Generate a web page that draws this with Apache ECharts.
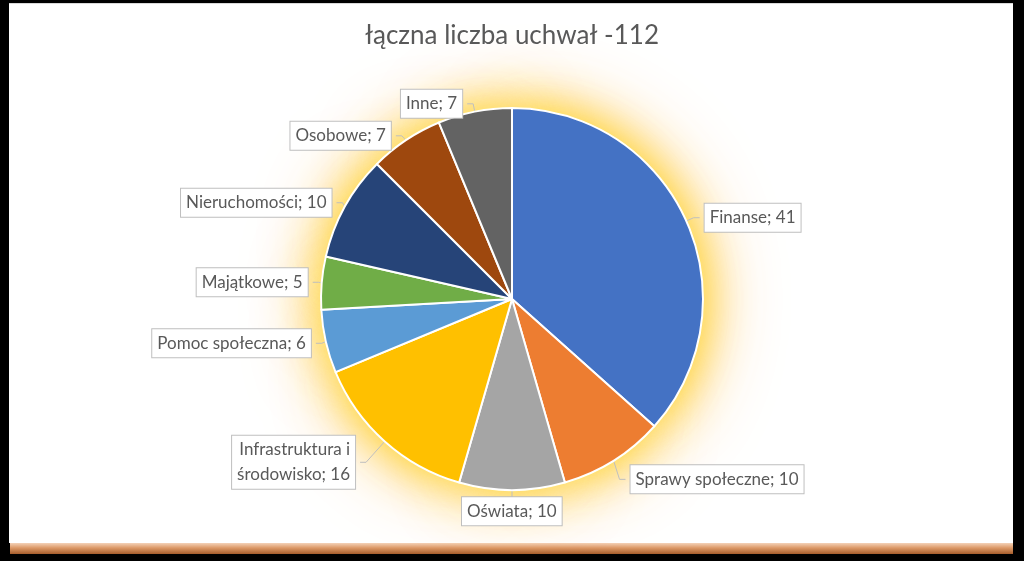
<!DOCTYPE html>
<html>
<head>
<meta charset="utf-8">
<script src="https://cdn.jsdelivr.net/npm/echarts@6/dist/echarts.min.js"></script>
<style>
  html, body { margin: 0; padding: 0; background: #000; }
  #wrap { position: relative; width: 1024px; height: 561px; background: #000; overflow: hidden; }
  #panel { position: absolute; left: 9px; top: 3px; width: 1004px; height: 540px; background: #fff; border-top: 1px solid #d9d9d9; box-sizing: border-box; }
  #bar { position: absolute; left: 10px; top: 543px; width: 1003px; height: 11px;
         background: linear-gradient(to bottom, #f4d2b8 0%, #dc9866 45%, #a65d2c 100%); }
  #chart { position: absolute; left: 0; top: 0; width: 1024px; height: 561px; }
</style>
</head>
<body>
<div id="wrap">
  <div id="panel"></div>
  <div id="bar"></div>
  <div id="chart"></div>
</div>
<script>
const titleText = 'łączna liczba uchwał -112';
const categories = ['Finanse', 'Sprawy społeczne', 'Oświata', 'Infrastruktura i\nśrodowisko', 'Pomoc społeczna', 'Majątkowe', 'Nieruchomości', 'Osobowe', 'Inne'];
const values = [41, 10, 10, 16, 6, 5, 10, 7, 7];
const colors = ['#4472C4', '#ED7D31', '#A5A5A5', '#FFC000', '#5B9BD5', '#70AD47', '#264478', '#9E480E', '#636363'];
// per-slice leader line lengths (style only)
const lineLen = [8, 22, 14, 28, 8, 8, 8, 8, 8];
const lineLen2 = [6, 6, 0, 6, 6, 6, 6, 6, 6];
// per-slice label nudges (style only)
const labelDx = [0, 0, -55, 0, 0, 0, 0, 0, 0];

const data = categories.map((c, i) => ({
  name: c, value: values[i], itemStyle: { color: colors[i] },
  labelLine: { length: lineLen[i], length2: lineLen2[i] }
}));
const glowData = values.map((v, i) => ({ name: categories[i], value: v }));

const chart = echarts.init(document.getElementById('chart'), null, { renderer: 'canvas' });
chart.setOption({
  backgroundColor: 'transparent',
  animation: false,
  title: {
    text: titleText, left: 'center', top: 18,
    textStyle: { fontFamily: 'Lato', fontSize: 26, fontWeight: 'normal', color: '#595959' }
  },
  series: [
    {
      type: 'pie', silent: true, z: 1,
      center: [512, 299], radius: 186,
      startAngle: 90, clockwise: true,
      label: { show: false }, labelLine: { show: false },
      itemStyle: { color: '#FFB84A', shadowBlur: 80, shadowColor: 'rgba(255,170,60,0.9)' },
      data: glowData
    },
    {
      type: 'pie', silent: true, z: 1,
      center: [512, 299], radius: 192,
      startAngle: 90, clockwise: true,
      label: { show: false }, labelLine: { show: false },
      itemStyle: { color: '#FFE040', shadowBlur: 45, shadowColor: 'rgba(255,220,40,1)' },
      data: glowData
    },
    {
      type: 'pie', z: 2,
      center: [512, 299], radius: 191,
      startAngle: 90, clockwise: true,
      avoidLabelOverlap: true,
      itemStyle: { borderColor: '#fff', borderWidth: 2 },
      label: {
        show: true, position: 'outside',
        formatter: p => p.name + '; ' + p.value,
        fontFamily: 'Lato', fontSize: 17, color: '#595959', lineHeight: 25,
        backgroundColor: '#fff', borderColor: '#BFBFBF', borderWidth: 1,
        padding: [2, 5, 1, 5]
      },
      labelLine: { show: true, length: 8, length2: 6, lineStyle: { color: '#BFBFBF', width: 1 } },
      labelLayout: p => (labelDx[p.dataIndex] ? { dx: labelDx[p.dataIndex] } : {}),
      data: data
    }
  ]
});
</script>
</body>
</html>
